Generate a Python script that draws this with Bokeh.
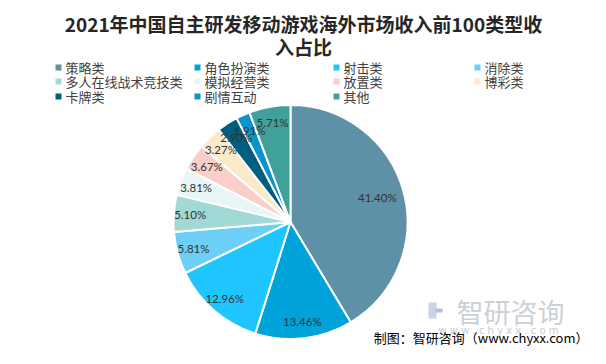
import math
from bokeh.plotting import figure
from bokeh.models import Range1d, ColumnDataSource
from bokeh.core.properties import value
from bokeh.embed import file_html
from bokeh.resources import INLINE

# ---- data ----
categories = ["策略类", "角色扮演类", "射击类", "消除类", "多人在线战术竞技类", "模拟经营类",
              "放置类", "博彩类", "卡牌类", "剧情互动", "其他"]
shares = [41.40, 13.46, 12.96, 5.81, 5.10, 3.81, 3.67, 3.27, 2.90, 1.91, 5.71]
colors = ["#5E90A8", "#00A3D9", "#1FC5FF", "#6ECFF6", "#A0D9D6", "#E8F6F6",
          "#F9D0C9", "#FBEAC8", "#005F80", "#0B93CC", "#40A19A"]
title_lines = ["2021年中国自主研发移动游戏海外市场收入前100类型收", "入占比"]
source_text = "制图：智研咨询（www.chyxx.com）"

W, H = 606, 364
FW, FH = 590, 348
p = figure(width=FW, height=FH, output_backend="svg", toolbar_location=None,
           x_range=Range1d(0, FW), y_range=Range1d(H - FH, H), min_border=0)
p.axis.visible = False
p.grid.visible = False
p.outline_line_color = None
p.background_fill_color = "white"

def Y(y):
    return H - y

cx, cy, r = 290, Y(221.5), 117
total = sum(shares)
starts, ends, lx, ly, labels = [], [], [], [], []
cum = 0.0
for s in shares:
    a0 = math.pi / 2 - 2 * math.pi * (cum + s) / total
    a1 = math.pi / 2 - 2 * math.pi * cum / total
    starts.append(a0)
    ends.append(a1)
    mid = (a0 + a1) / 2
    rl = r * (0.77 if s > 30 else 0.86)
    lx.append(cx + rl * math.cos(mid))
    ly.append(cy + rl * math.sin(mid))
    labels.append(f"{s:.2f}%")
    cum += s

src = ColumnDataSource(dict(start=starts, end=ends, color=colors))
p.wedge(x=cx, y=cy, radius=r, start_angle="start", end_angle="end", fill_color="color",
        line_color="white", line_width=2, source=src)

p.text(x=lx, y=ly, text=labels, text_align="center", text_baseline="middle",
       text_font_size="11.5px", text_color="#333333", text_font=value("Lato"))

# title
p.text(x=[303, 303], y=[Y(23), Y(46)], text=title_lines, text_align="center",
       text_baseline="middle", text_font_size="19px", text_font_style="bold",
       text_color="#262626", text_font=value("Noto Sans CJK SC"))

# legend
col_x = [58, 197, 336, 477]
row_y = [67, 81, 96]
mx, my, tx, ty = [], [], [], []
for i, c in enumerate(categories):
    rr, cc = divmod(i, 4)
    mx.append(col_x[cc])
    my.append(Y(row_y[rr]))
    tx.append(col_x[cc] + 7)
    ty.append(Y(row_y[rr]))
p.scatter(x=mx, y=my, marker="square", size=6, fill_color=colors, line_color=None)
p.text(x=tx, y=ty, text=categories, text_align="left", text_baseline="middle",
       text_font_size="13px", text_color="#404040", text_font=value("Noto Sans CJK SC"))

# watermark
p.text(x=[510], y=[Y(311)], text=["智研咨询"], text_align="center", text_baseline="middle",
       text_font_size="27px", text_color="#CDD0D6", text_font=value("Noto Sans CJK SC"))
p.text(x=[498], y=[Y(330)], text=["w w w . c h y x x . c o m"], text_align="center",
       text_baseline="middle", text_font_size="10px", text_color="#C8CCD2",
       text_font=value("DejaVu Sans"))
p.quad(left=[428, 435], right=[436, 442], bottom=[Y(318), Y(312)], top=[Y(302), Y(308)],
       fill_color=["#C9D3E3", "#AFC0DA"], line_color=None)

# source
p.text(x=[588], y=[Y(337)], text=[source_text], text_align="right", text_baseline="middle",
       text_font_size="13px", text_color="#000000", text_font=value("Noto Sans CJK SC"))

open("out.html", "w").write(file_html(p, INLINE))
